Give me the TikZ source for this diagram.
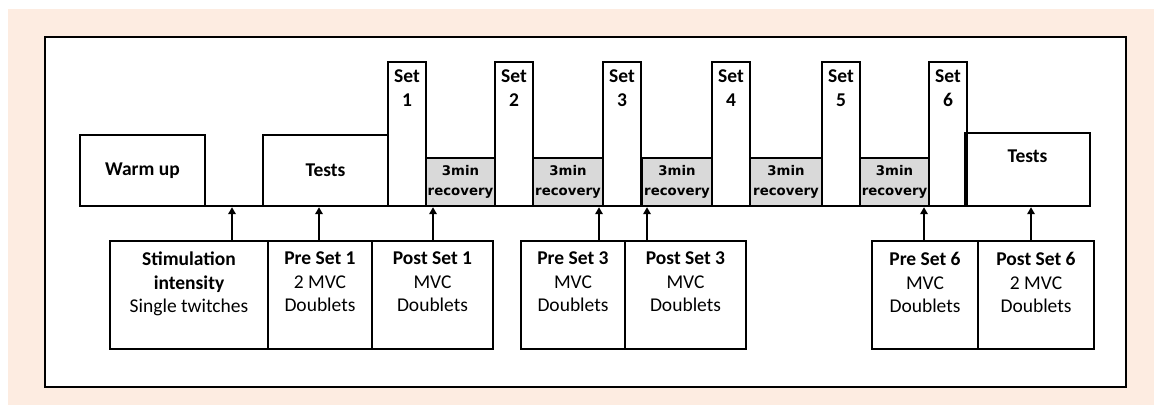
\documentclass[tikz,border=0pt]{standalone}
\usepackage{fontspec}
\setmainfont{Carlito}
\newfontfamily\recfont{DejaVu Sans}
\usetikzlibrary{arrows.meta}
\definecolor{peach}{RGB}{253,236,225}
\definecolor{recgray}{RGB}{217,217,217}
\tikzset{
  blk/.style={draw, line width=2.6pt, inner sep=0pt, outer sep=0pt},
  rec/.style={blk, fill=recgray, anchor=south west, minimum height=48,
    font=\recfont\bfseries\fontsize{13.3}{20.5}\selectfont, align=center},
  txt/.style={font=\fontsize{19.5}{23.5}\selectfont, align=center, inner sep=0pt},
  up/.style={-{Triangle[width=7.5pt,length=7pt]}, line width=2.4pt, shorten >=1.2pt},
}

\begin{document}
\begin{tikzpicture}[x=1pt,y=-1pt]
  \useasboundingbox (0,0) rectangle (1154,405);
  \fill[white] (0,0) rectangle (1154,405);
  \fill[peach] (8,9) rectangle (1154,405);
  \draw[line width=1.6pt, fill=white] (45,37) rectangle (1126,387);

  \node[blk, txt, font=\fontsize{19.5}{23.5}\selectfont\bfseries, anchor=south west,
    minimum width=125, minimum height=71] (warm) at (80,206) {Warm up};
  \node[blk, txt, font=\fontsize{19.5}{23.5}\selectfont\bfseries, anchor=south west,
    minimum width=125, minimum height=71] (tests) at (263,206) {Tests};
  \foreach \i/\x in {1/388,2/495,3/603,4/712,5/822,6/929} {
    \node[blk, anchor=south west, minimum width=38, minimum height=144] (set\i) at (\x,206) {};
    \node[txt, font=\fontsize{19.5}{23.5}\selectfont\bfseries, anchor=north]
      (set\i-t) at ([yshift=-8pt]set\i.north) {Set\\\i};
  }
  \foreach \i/\x/\w in {1/426/69,2/533/70,3/642/70,4/750/72,5/860/69}
    \node[rec, minimum width=\w] (rec\i) at (\x,206) {3min\\recovery};
  \node[blk, anchor=south west, minimum width=125, minimum height=73] (tests2) at (965,206) {};
  \node[txt, font=\fontsize{19.5}{23.5}\selectfont\bfseries, anchor=north]
    (tests2-t) at ([yshift=-17pt]tests2.north) {Tests};
  \draw[line width=2.6pt] (warm.south west) -- (tests2.south east);

  \foreach \n/\x/\w/\t in {
      stim/110/158/{\textbf{Stimulation}\\\textbf{intensity}\\Single twitches},
      pre1/268/104/{\textbf{Pre Set 1}\\2 MVC\\Doublets},
      post1/372/121/{\textbf{Post Set 1}\\MVC\\Doublets},
      pre3/521/104/{\textbf{Pre Set 3}\\MVC\\Doublets},
      post3/625/121/{\textbf{Post Set 3}\\MVC\\Doublets},
      pre6/872/106/{\textbf{Pre Set 6}\\MVC\\Doublets},
      post6/978/116/{\textbf{Post Set 6}\\2 MVC\\Doublets}} {
    \node[blk, anchor=north west, minimum width=\w, minimum height=108] (\n) at (\x,241) {};
    \node[txt, anchor=north] (\n-t) at ([yshift=-11pt]\n.north) {\t};
  }

  \coordinate (a1) at (232,206);
  \coordinate (a2) at (319,206);
  \coordinate (a3) at (433,206);
  \coordinate (a4) at (599,206);
  \coordinate (a5) at (647,206);
  \coordinate (a6) at (924,206);
  \coordinate (a7) at (1031,206);
  \draw[up] (stim.north -| a1) -- (a1);
  \draw[up] (pre1.north -| a2) -- (a2);
  \draw[up] (post1.north -| a3) -- (a3);
  \draw[up] (pre3.north -| a4) -- (a4);
  \draw[up] (post3.north -| a5) -- (a5);
  \draw[up] (pre6.north -| a6) -- (a6);
  \draw[up] (post6.north -| a7) -- (a7);
\end{tikzpicture}
\end{document}
